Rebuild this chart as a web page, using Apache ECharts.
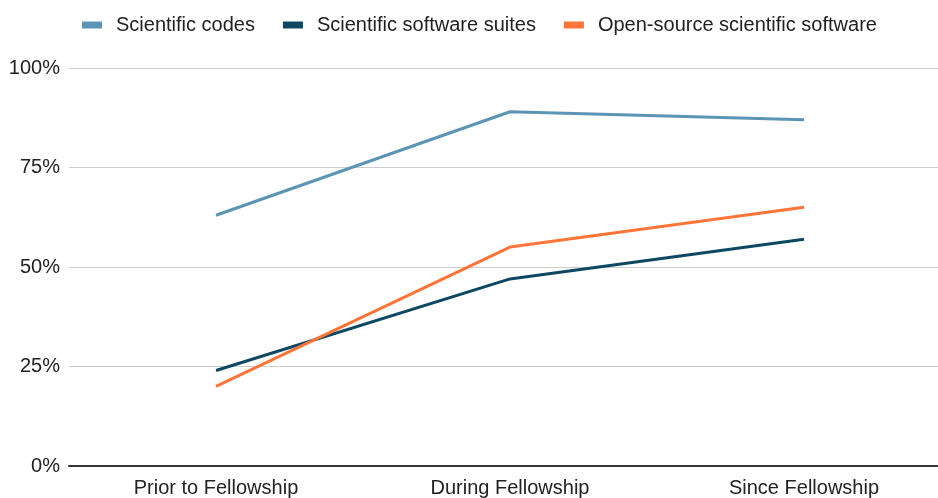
<!DOCTYPE html>
<html>
<head>
<meta charset="utf-8">
<script src="https://cdn.jsdelivr.net/npm/echarts@6/dist/echarts.min.js"></script>
<style>
  html, body { margin: 0; padding: 0; background: #fff; }
  #chart { width: 938px; height: 498px; }
</style>
</head>
<body>
<div id="chart"></div>
<script>
// Share of fellows using each kind of software, by period
const periods = ['Prior to Fellowship', 'During Fellowship', 'Since Fellowship'];
const scientificCodes = [63, 89, 87];
const softwareSuites = [24, 47, 57];
const openSource = [20, 55, 65];
const yTicks = [0, 25, 50, 75, 100];

const FONT = '"Liberation Sans", Arial, sans-serif';
const chart = echarts.init(document.getElementById('chart'));

function lineSeries(name, data, color) {
  return {
    name: name,
    type: 'line',
    data: data,
    symbol: 'none',
    lineStyle: { width: 3, color: color },
    itemStyle: { color: color }
  };
}

chart.setOption({
  animation: false,
  textStyle: { fontFamily: FONT },
  legend: {
    top: 10,
    left: 77,
    itemWidth: 20,
    itemHeight: 7,
    itemGap: 28,
    icon: 'rect',
    textStyle: { fontSize: 20, color: '#222', fontFamily: FONT, padding: [0, 0, 0, 9] },
    data: ['Scientific codes', 'Scientific software suites', 'Open-source scientific software']
  },
  // plot area runs past the right edge of the canvas
  grid: { left: 69, width: 882, top: 68, height: 398, outerBoundsMode: 'none', containLabel: false },
  xAxis: {
    type: 'category',
    data: periods,
    boundaryGap: true,
    axisTick: { show: false },
    axisLine: { lineStyle: { color: '#333', width: 2 } },
    axisLabel: { fontSize: 20, color: '#222', margin: 12, fontFamily: FONT }
  },
  yAxis: {
    type: 'value',
    min: yTicks[0],
    max: yTicks[yTicks.length - 1],
    interval: 25,
    axisLine: { show: false },
    axisTick: { show: false },
    axisLabel: { fontSize: 20, color: '#222', margin: 9, formatter: '{value}%', fontFamily: FONT },
    splitLine: { lineStyle: { color: '#cccccc', width: 1 } }
  },
  series: [
    lineSeries('Scientific codes', scientificCodes, '#5b94b4'),
    lineSeries('Scientific software suites', softwareSuites, '#0d4862'),
    lineSeries('Open-source scientific software', openSource, '#ff7537')
  ]
});
</script>
</body>
</html>
